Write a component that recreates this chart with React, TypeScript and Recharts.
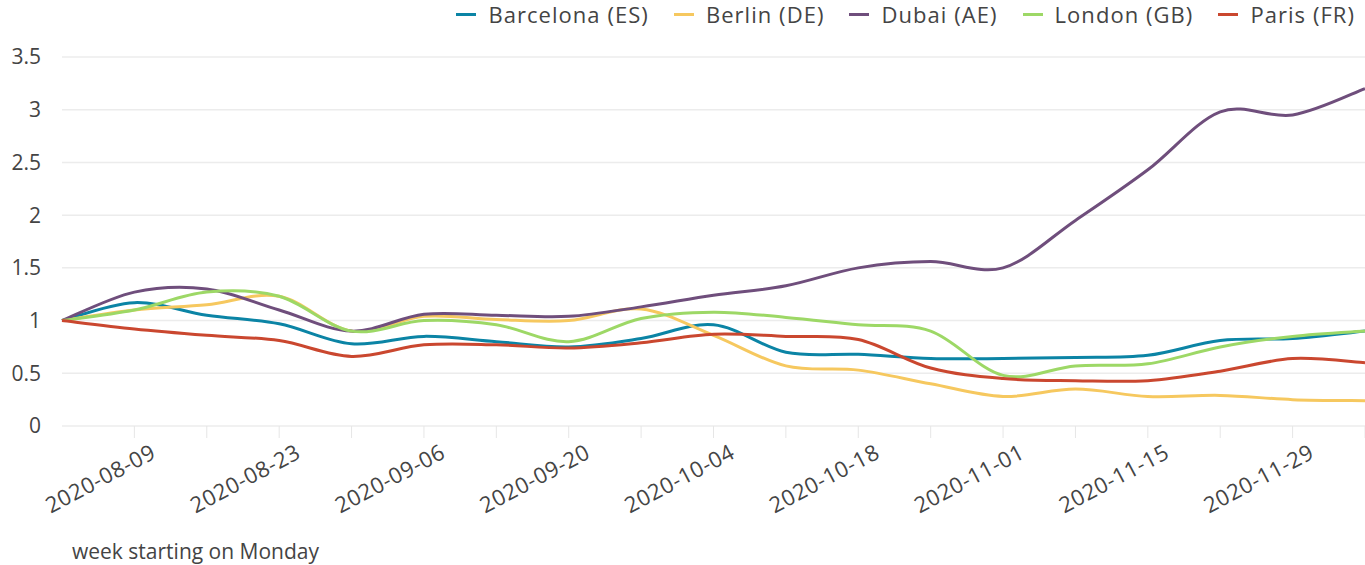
import React from "react";
import { LineChart, Line, XAxis, YAxis, CartesianGrid, Legend } from "recharts";

// weekly points, one week before the first labelled tick up to the last one
const weeks = [
  "2020-08-02", "2020-08-09", "2020-08-16", "2020-08-23", "2020-08-30",
  "2020-09-06", "2020-09-13", "2020-09-20", "2020-09-27", "2020-10-04",
  "2020-10-11", "2020-10-18", "2020-10-25", "2020-11-01", "2020-11-08",
  "2020-11-15", "2020-11-22", "2020-11-29", "2020-12-06",
];

const barcelona = [1.0, 1.17, 1.05, 0.97, 0.78, 0.85, 0.8, 0.75, 0.83, 0.96, 0.7, 0.68, 0.64, 0.64, 0.65, 0.67, 0.81, 0.83, 0.9];
const berlin = [1.0, 1.1, 1.15, 1.23, 0.9, 1.04, 1.01, 1.0, 1.11, 0.86, 0.57, 0.53, 0.4, 0.28, 0.35, 0.28, 0.29, 0.25, 0.24];
const dubai = [1.0, 1.27, 1.3, 1.1, 0.9, 1.06, 1.05, 1.04, 1.13, 1.24, 1.33, 1.5, 1.56, 1.5, 1.95, 2.43, 2.98, 2.95, 3.2];
const london = [1.0, 1.1, 1.27, 1.23, 0.9, 1.0, 0.96, 0.8, 1.02, 1.08, 1.03, 0.96, 0.9, 0.48, 0.57, 0.59, 0.75, 0.85, 0.9];
const paris = [1.0, 0.92, 0.86, 0.81, 0.66, 0.77, 0.77, 0.74, 0.79, 0.87, 0.85, 0.82, 0.55, 0.45, 0.43, 0.43, 0.52, 0.64, 0.6];

const cities = ["Barcelona (ES)", "Berlin (DE)", "Dubai (AE)", "London (GB)", "Paris (FR)"];
const keys = ["barcelona", "berlin", "dubai", "london", "paris"];
const colors = ["#0b84a5", "#f6c85f", "#6f4e7c", "#9dd866", "#ca472f"];

const yTicks = [0, 0.5, 1, 1.5, 2, 2.5, 3, 3.5];
const xTicks = weeks.map((_, i) => i).slice(1);

const data = weeks.map((week, i) => ({
  idx: i,
  week,
  barcelona: barcelona[i],
  berlin: berlin[i],
  dubai: dubai[i],
  london: london[i],
  paris: paris[i],
}));

// catmull-rom style smoothing, close to the original spline lines
function smooth(context: any) {
  let pts: number[][] = [];
  return {
    areaStart() {},
    areaEnd() {},
    lineStart() {
      pts = [];
    },
    lineEnd() {
      if (!pts.length) return;
      context.moveTo(pts[0][0], pts[0][1]);
      for (let i = 0; i < pts.length - 1; i++) {
        const p0 = pts[Math.max(i - 1, 0)];
        const p1 = pts[i];
        const p2 = pts[i + 1];
        const p3 = pts[Math.min(i + 2, pts.length - 1)];
        context.bezierCurveTo(
          p1[0] + (p2[0] - p0[0]) / 6,
          p1[1] + (p2[1] - p0[1]) / 6,
          p2[0] - (p3[0] - p1[0]) / 6,
          p2[1] - (p3[1] - p1[1]) / 6,
          p2[0],
          p2[1]
        );
      }
    },
    point(x: number, y: number) {
      pts.push([+x, +y]);
    },
  };
}

const DateTick = ({ x, y, payload }: any) => {
  const i = payload.value;
  if (i % 2 === 0) return null;
  const ax = x + 23;
  const ay = y + 19;
  return (
    <text
      x={ax}
      y={ay}
      transform={`rotate(-28, ${ax}, ${ay})`}
      textAnchor="end"
      fill="#444"
      fontSize={22}
      letterSpacing={0.6}
    >
      {weeks[i]}
    </text>
  );
};

const CityLegend = ({ payload }: any) => (
  <div style={{ display: "flex", justifyContent: "flex-end", alignItems: "center", height: 40, paddingRight: 10 }}>
    {(payload || []).map((p: any) => (
      <div key={p.value} style={{ display: "flex", alignItems: "center", marginLeft: 25 }}>
        <span style={{ display: "inline-block", width: 20, height: 3, background: p.color, marginRight: 12 }} />
        <span style={{ fontSize: 22, letterSpacing: 1.05, color: "#444" }}>{p.value}</span>
      </div>
    ))}
  </div>
);

const AxisTitle = ({ viewBox }: any) => (
  <text x={viewBox.x + 10} y={viewBox.y + viewBox.height - 6} fill="#444" fontSize={21}>
    week starting on Monday
  </text>
);

export default function App() {
  return (
    <div style={{ position: "absolute", left: 0, top: 0, fontFamily: "'Open Sans', sans-serif", background: "#fff" }}>
      <LineChart width={1365} height={565} data={data} margin={{ top: 17, right: 0, bottom: 0, left: 0 }}>
        <CartesianGrid vertical={false} stroke="#ececec" strokeWidth={1.5} />
        <XAxis
          dataKey="idx"
          type="number"
          domain={[0, weeks.length - 1]}
          ticks={xTicks}
          interval={0}
          height={139}
          axisLine={false}
          tickSize={12}
          tickMargin={0}
          tickLine={{ stroke: "#e6e6e6" }}
          tick={<DateTick />}
          label={<AxisTitle />}
        />
        <YAxis
          domain={[0, 3.5]}
          ticks={yTicks}
          width={62}
          axisLine={false}
          tickLine={false}
          tickSize={0}
          tickMargin={21}
          tick={{ fill: "#444", fontSize: 21 }}
        />
        <Legend
          verticalAlign="top"
          align="right"
          wrapperStyle={{ top: -6, left: 0, width: 1365 }}
          content={<CityLegend />}
        />
        {keys.map((k, i) => (
          <Line
            key={k}
            dataKey={k}
            name={cities[i]}
            type={smooth as any}
            stroke={colors[i]}
            strokeWidth={3}
            dot={false}
            activeDot={false}
            isAnimationActive={false}
          />
        ))}
      </LineChart>
    </div>
  );
}
